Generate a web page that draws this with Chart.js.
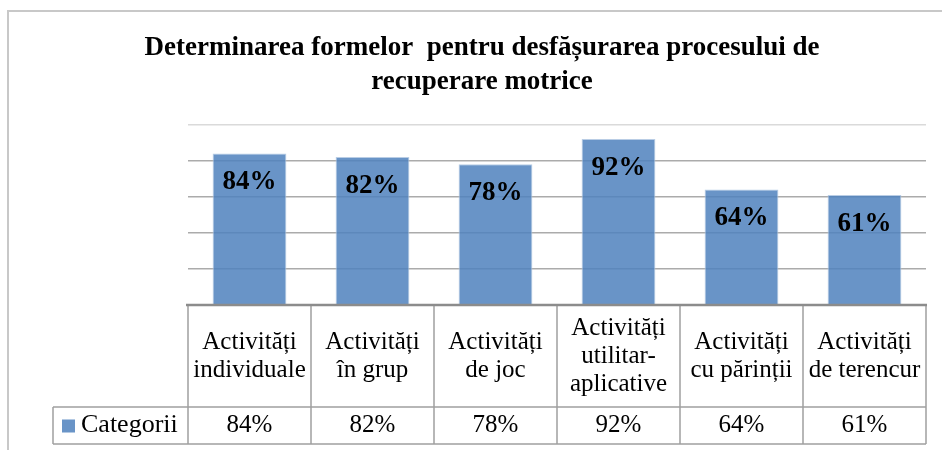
<!DOCTYPE html>
<html lang="ro">
<head>
    <meta charset="UTF-8">
    <title>Determinarea formelor</title>
    <script src="https://cdn.jsdelivr.net/npm/chart.js@4.4.1/dist/chart.umd.min.js"></script>
    <style>
        html, body { margin: 0; padding: 0; background: #fff; }
        #wrap { width: 942px; height: 450px; }
    </style>
</head>
<body>
<div id="wrap"><canvas id="my-chart"></canvas></div>
<script>

    const titleLines = ['Determinarea formelor  pentru desfășurarea procesului de', 'recuperare motrice'];
    const categories = [
        ['Activități', 'individuale'],
        ['Activități', 'în grup'],
        ['Activități', 'de joc'],
        ['Activități', 'utilitar-', 'aplicative'],
        ['Activități', 'cu părinții'],
        ['Activități', 'de terencur']
    ];
    const seriesName = 'Categorii';
    const values = [84, 82, 78, 92, 64, 61];
    const serif = "'Liberation Serif', 'Times New Roman', serif";
    const barColor = 'rgba(79, 129, 189, 0.85)';

    // bar value labels, bold, just under the top of each bar
    const valueLabels = {
        id: 'valueLabels',
        afterDatasetsDraw(chart) {
            const ctx = chart.ctx;
            const meta = chart.getDatasetMeta(0);
            ctx.save();
            ctx.font = 'bold 27px ' + serif;
            ctx.fillStyle = '#000';
            ctx.textAlign = 'center';
            ctx.textBaseline = 'middle';
            meta.data.forEach((bar, i) => {
                ctx.fillText(values[i] + '%', bar.x, bar.y + 29);
            });
            ctx.restore();
        }
    };

    // outer frame of the chart
    const frame = {
        id: 'frame',
        beforeDraw(chart) {
            const ctx = chart.ctx;
            ctx.save();
            ctx.strokeStyle = '#C8C8C8';
            ctx.lineWidth = 2;
            ctx.strokeRect(8, 11, chart.width + 10, chart.height + 10);
            ctx.restore();
        }
    };

    // data table under the plot
    const dataTable = {
        id: 'dataTable',
        afterDraw(chart) {
            const ctx = chart.ctx;
            const x = chart.scales.x;
            const area = chart.chartArea;
            const top = area.bottom;
            const mid = top + 102;
            const bottom = mid + 37;
            const legendLeft = 53;
            const step = (area.right - area.left) / categories.length;

            ctx.save();
            ctx.strokeStyle = '#A0A0A0';
            ctx.lineWidth = 1.5;
            ctx.beginPath();
            ctx.moveTo(legendLeft, mid);
            ctx.lineTo(area.right, mid);
            ctx.moveTo(legendLeft, bottom);
            ctx.lineTo(area.right, bottom);
            ctx.moveTo(legendLeft, mid);
            ctx.lineTo(legendLeft, bottom);
            for (let i = 0; i <= categories.length; i++) {
                const vx = area.left + i * step;
                ctx.moveTo(vx, top);
                ctx.lineTo(vx, bottom);
            }
            ctx.stroke();

            // axis line
            ctx.strokeStyle = '#8C8C8C';
            ctx.lineWidth = 2.5;
            ctx.beginPath();
            ctx.moveTo(area.left - 2, top);
            ctx.lineTo(area.right + 1, top);
            ctx.stroke();

            ctx.fillStyle = '#000';
            ctx.textAlign = 'center';
            ctx.textBaseline = 'middle';
            ctx.font = '25px ' + serif;
            const lineH = 28;
            categories.forEach((lines, i) => {
                const cx = x.getPixelForValue(i);
                const cy = (top + mid) / 2;
                const start = cy - (lines.length - 1) * lineH / 2;
                lines.forEach((line, j) => ctx.fillText(line, cx, start + j * lineH));
                ctx.fillText(values[i] + '%', cx, (mid + bottom) / 2);
            });

            // legend key
            ctx.fillStyle = barColor;
            ctx.fillRect(62, (mid + bottom) / 2 - 6, 13, 13);
            ctx.fillStyle = '#000';
            ctx.textAlign = 'left';
            ctx.font = '26px ' + serif;
            ctx.fillText(seriesName, 81, (mid + bottom) / 2);
            ctx.restore();
        }
    };

    const data = {
        labels: categories,
        datasets: [{
            label: seriesName,
            data: values,
            backgroundColor: barColor,
            borderColor: 'rgba(185, 205, 229, 1)',
            borderWidth: 1,
            barPercentage: 0.6,
            categoryPercentage: 1
        }]
    };

    const config = {
        type: 'bar',
        data: data,
        options: {
            responsive: true,
            maintainAspectRatio: false,
            animation: false,
            layout: {
                padding: { left: 38, right: 16, top: 0, bottom: 145 }
            },
            scales: {
                x: {
                    display: false
                },
                y: {
                    min: 0,
                    max: 100,
                    afterFit: (scale) => { scale.width = 150; },
                    ticks: { display: false, stepSize: 20 },
                    border: { display: false },
                    grid: {
                        drawTicks: false,
                        lineWidth: 1.5,
                        color: (c) => c.tick && c.tick.value === 100 ? '#DADADA' : '#ABABAB'
                    }
                }
            },
            plugins: {
                legend: { display: false },
                tooltip: { enabled: false },
                title: {
                    display: true,
                    text: titleLines,
                    color: '#000',
                    font: { family: serif, size: 27, weight: 'bold', lineHeight: 1.25 },
                    padding: { top: 31, bottom: 26 }
                }
            }
        },
        plugins: [frame, valueLabels, dataTable]
    };

    const chart = new Chart(document.getElementById('my-chart'), config);

</script>
</body>
</html>
